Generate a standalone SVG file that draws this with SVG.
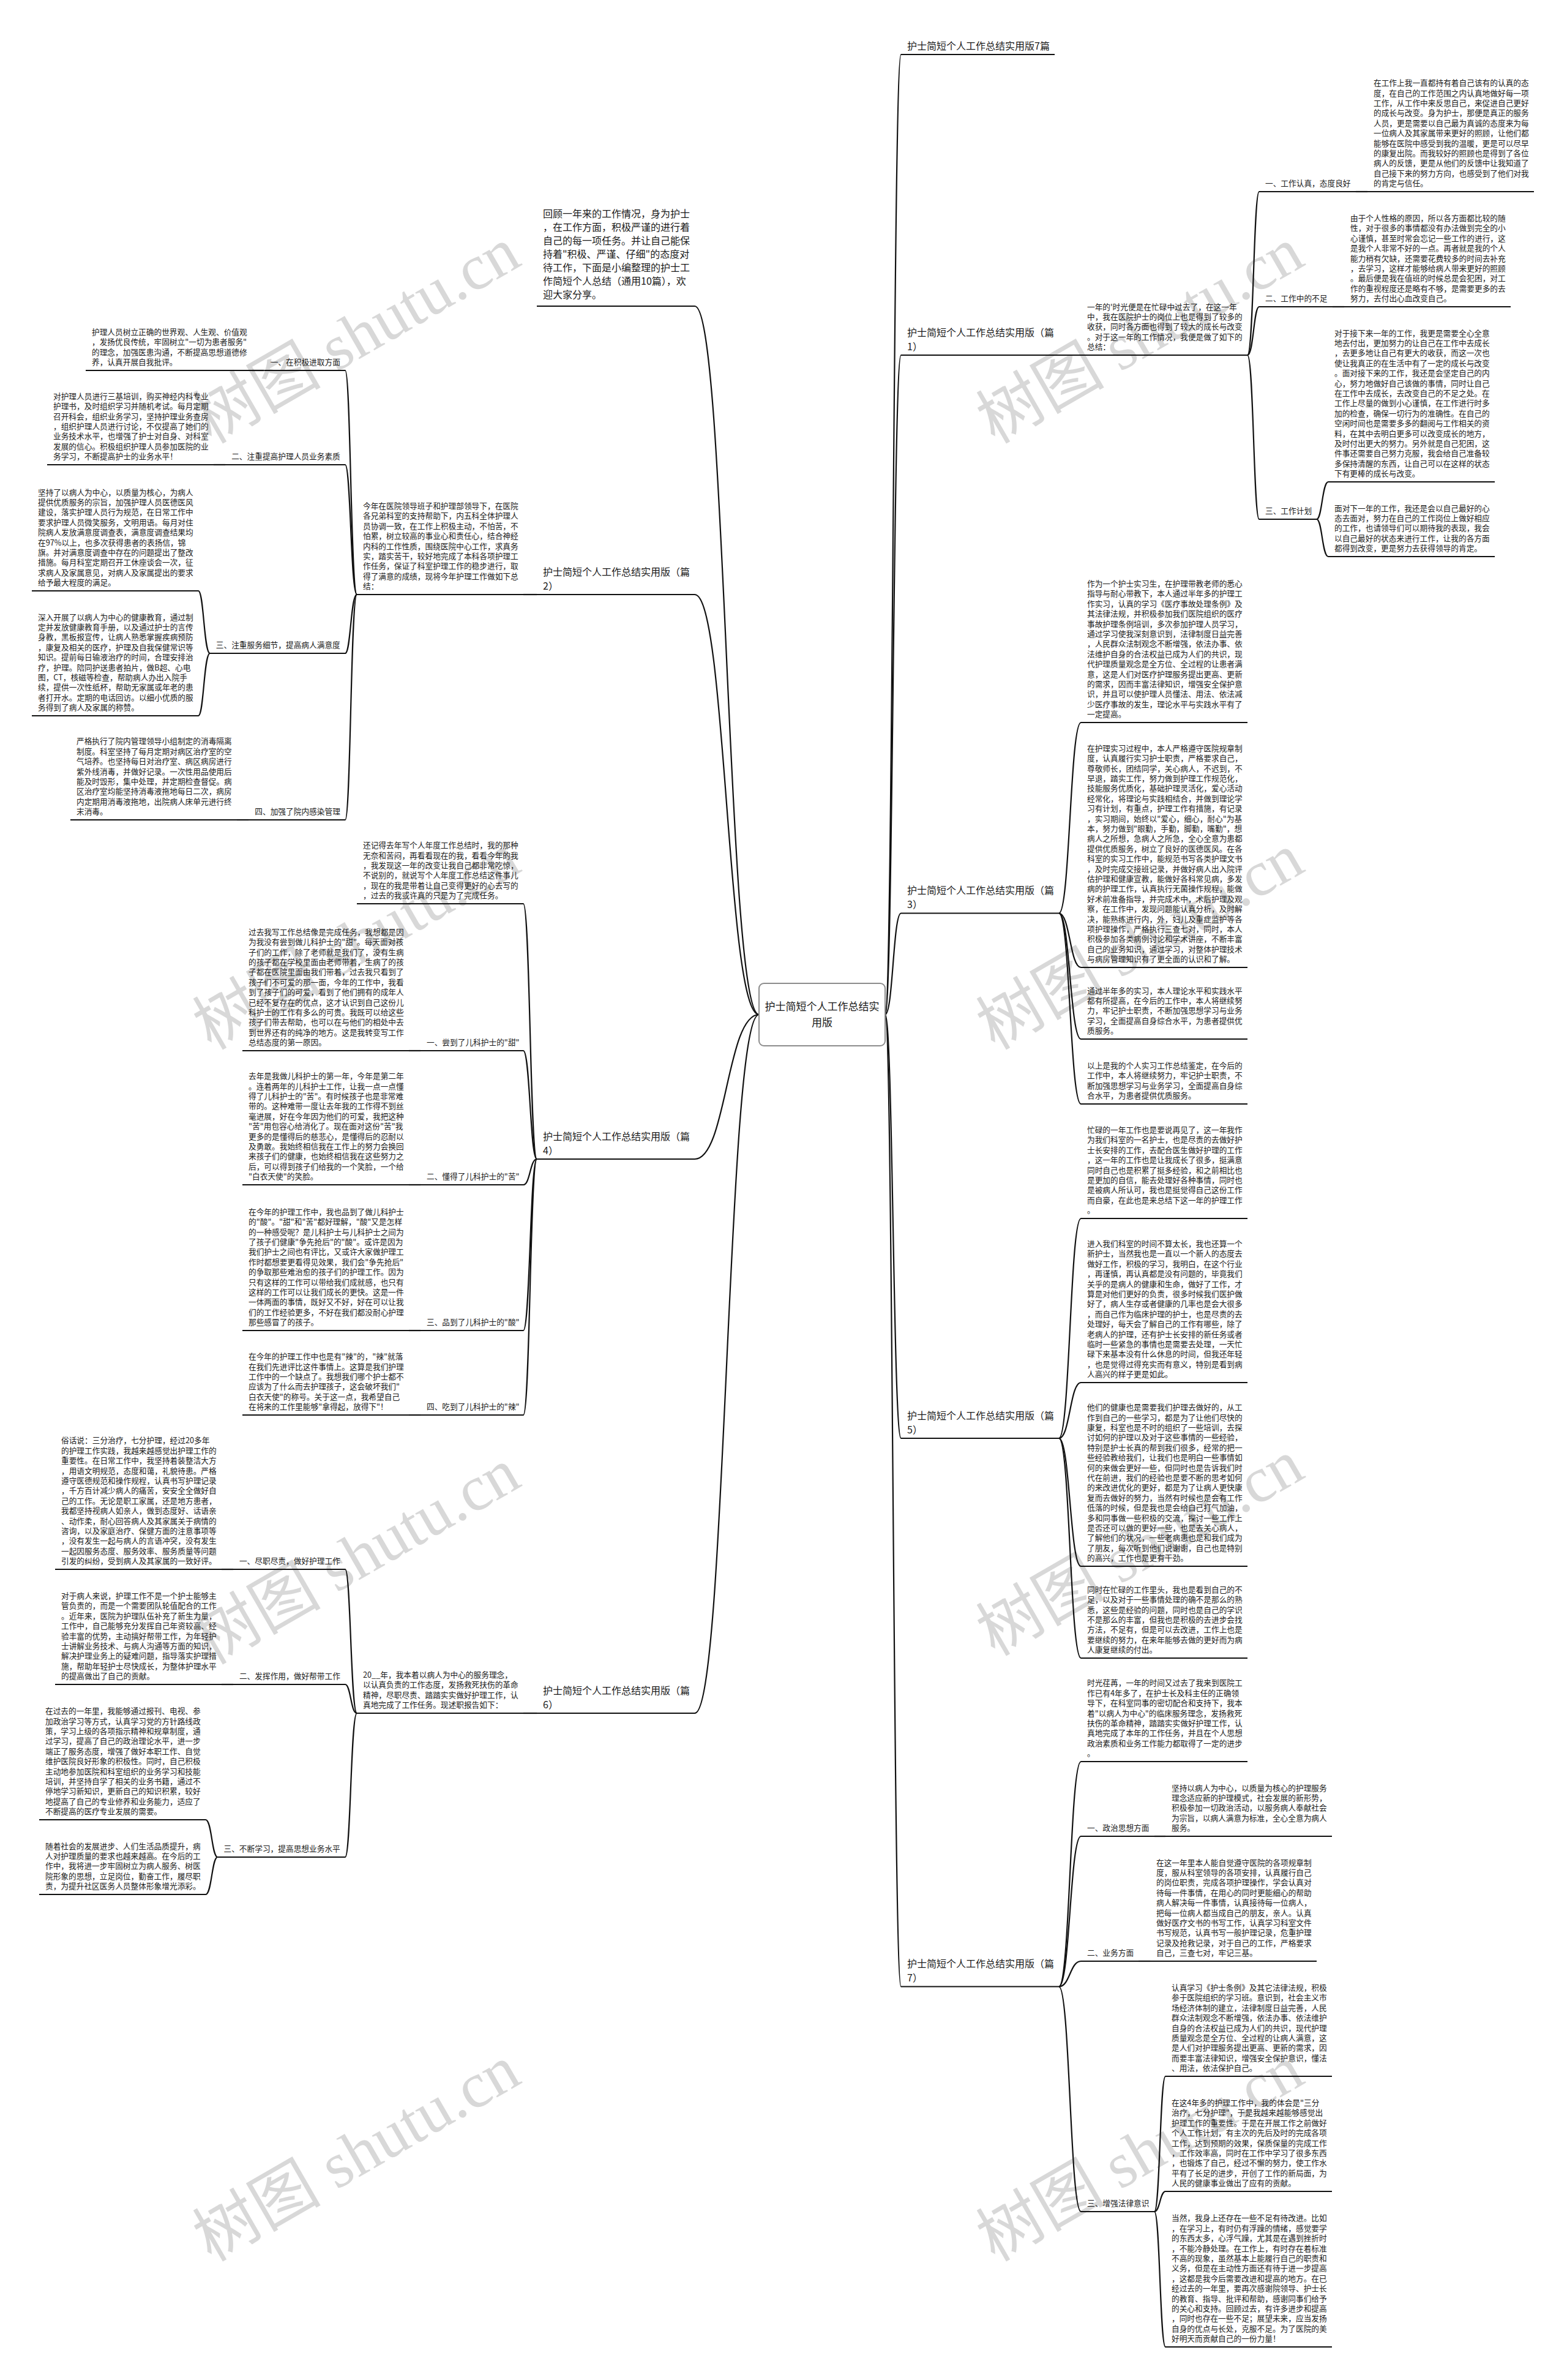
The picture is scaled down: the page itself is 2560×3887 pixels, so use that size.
<svg xmlns="http://www.w3.org/2000/svg" width="2560" height="3887" viewBox="0 0 2560 3887">
<style>
.t{font-family:"Noto Sans CJK SC","Noto Sans",sans-serif;font-size:12.7px;fill:#1a1a1a}
.b{font-family:"Noto Sans CJK SC","Noto Sans",sans-serif;font-size:16px;fill:#1a1a1a}
.u{stroke:#111;stroke-width:2.2;fill:none}
.c{stroke:#111;stroke-width:2.2;fill:none}
.wm{fill:#d8d8d8}
.wmc{font-family:"Noto Sans CJK SC",sans-serif;font-size:105px}
.wml{font-family:"Liberation Serif",serif;font-size:105px}
</style>
<rect width="2560" height="3887" fill="#fff"/>
<g id="watermarks" class="wm">
<text transform="translate(345,726) rotate(-30)"><tspan class="wmc">树图</tspan><tspan class="wml"> shutu.cn</tspan></text>
<text transform="translate(1625,726) rotate(-30)"><tspan class="wmc">树图</tspan><tspan class="wml"> shutu.cn</tspan></text>
<text transform="translate(345,1716) rotate(-30)"><tspan class="wmc">树图</tspan><tspan class="wml"> shutu.cn</tspan></text>
<text transform="translate(1625,1716) rotate(-30)"><tspan class="wmc">树图</tspan><tspan class="wml"> shutu.cn</tspan></text>
<text transform="translate(345,2720) rotate(-30)"><tspan class="wmc">树图</tspan><tspan class="wml"> shutu.cn</tspan></text>
<text transform="translate(1625,2706) rotate(-30)"><tspan class="wmc">树图</tspan><tspan class="wml"> shutu.cn</tspan></text>
<text transform="translate(345,3695) rotate(-30)"><tspan class="wmc">树图</tspan><tspan class="wml"> shutu.cn</tspan></text>
<text transform="translate(1625,3695) rotate(-30)"><tspan class="wmc">树图</tspan><tspan class="wml"> shutu.cn</tspan></text>
</g>
<g id="connectors">
<path class="c" d="M1446 1657C1459 1657 1459 89 1472 89"/>
<path class="c" d="M1446 1657C1459 1657 1459 580 1472 580"/>
<path class="c" d="M1446 1657C1459 1657 1459 1491.5 1472 1491.5"/>
<path class="c" d="M1446 1657C1459 1657 1459 2349 1472 2349"/>
<path class="c" d="M1446 1657C1459 1657 1459 3244.5 1472 3244.5"/>
<path class="c" d="M1730 580H1766"/>
<path class="c" d="M1730 1491.5C1748 1491.5 1748 1180 1766 1180"/>
<path class="c" d="M1730 1491.5C1748 1491.5 1748 1580 1766 1580"/>
<path class="c" d="M1730 1491.5C1748 1491.5 1748 1697 1766 1697"/>
<path class="c" d="M1730 1491.5C1748 1491.5 1748 1803 1766 1803"/>
<path class="c" d="M1730 2349C1748 2349 1748 1990 1766 1990"/>
<path class="c" d="M1730 2349C1748 2349 1748 2258 1766 2258"/>
<path class="c" d="M1730 2349C1748 2349 1748 2558 1766 2558"/>
<path class="c" d="M1730 2349C1748 2349 1748 2708 1766 2708"/>
<path class="c" d="M1730 3244.5C1748 3244.5 1748 2877 1766 2877"/>
<path class="c" d="M1730 3244.5C1748 3244.5 1748 2999 1766 2999"/>
<path class="c" d="M1730 3244.5C1748 3244.5 1748 3203 1766 3203"/>
<path class="c" d="M1730 3244.5C1748 3244.5 1748 3612 1766 3612"/>
<path class="c" d="M2038 580C2048 580 2048 313 2057 313"/>
<path class="c" d="M2038 580C2048 580 2048 501 2057 501"/>
<path class="c" d="M2038 580C2048 580 2048 848 2057 848"/>
<path class="c" d="M2215 313H2234"/>
<path class="c" d="M2177 501H2196"/>
<path class="c" d="M2151 848C2160 848 2160 787 2170 787"/>
<path class="c" d="M2151 848C2160 848 2160 909 2170 909"/>
<path class="c" d="M1886 2999H1904"/>
<path class="c" d="M1860 3203H1879"/>
<path class="c" d="M1886 3612C1895 3612 1895 3391 1904 3391"/>
<path class="c" d="M1886 3612C1895 3612 1895 3579 1904 3579"/>
<path class="c" d="M1886 3612C1895 3612 1895 3833 1904 3833"/>
<path class="c" d="M1240 1657C1187 1657 1187 500 1135 500"/>
<path class="c" d="M1240 1657C1187 1657 1187 971 1135 971"/>
<path class="c" d="M1240 1657C1187 1657 1187 1893 1135 1893"/>
<path class="c" d="M1240 1657C1187 1657 1187 2798 1135 2798"/>
<path class="c" d="M877 971H855"/>
<path class="c" d="M583 971C573 971 573 605 564 605"/>
<path class="c" d="M583 971C573 971 573 759 564 759"/>
<path class="c" d="M583 971C573 971 573 1067 564 1067"/>
<path class="c" d="M583 971C573 971 573 1339 564 1339"/>
<path class="c" d="M431.7 605H412"/>
<path class="c" d="M368 759H349"/>
<path class="c" d="M343 1067C333 1067 333 965 324 965"/>
<path class="c" d="M343 1067C333 1067 333 1169 324 1169"/>
<path class="c" d="M406 1339H387"/>
<path class="c" d="M877 1893C866 1893 866 1476 855 1476"/>
<path class="c" d="M877 1893C866 1893 866 1716 855 1716"/>
<path class="c" d="M877 1893C866 1893 866 1935 855 1935"/>
<path class="c" d="M877 1893C866 1893 866 2173 855 2173"/>
<path class="c" d="M877 1893C866 1893 866 2311 855 2311"/>
<path class="c" d="M687 1716H668"/>
<path class="c" d="M687 1935H668"/>
<path class="c" d="M687 2173H668"/>
<path class="c" d="M687 2311H668"/>
<path class="c" d="M877 2798H855"/>
<path class="c" d="M583 2798C573 2798 573 2563 564 2563"/>
<path class="c" d="M583 2798C573 2798 573 2751 564 2751"/>
<path class="c" d="M583 2798C573 2798 573 3033 564 3033"/>
<path class="c" d="M381 2563H362"/>
<path class="c" d="M381 2751H362"/>
<path class="c" d="M355.5 3033C346 3033 346 2972 336 2972"/>
<path class="c" d="M355.5 3033C346 3033 346 3094 336 3094"/>
</g>
<g id="center">
<rect x="1240" y="1606" width="206" height="102" rx="8" fill="#fff" stroke="#8c8c8c" stroke-width="2"/>
<text class="b" style="font-size:17px" text-anchor="middle"><tspan x="1343" y="1650">护士简短个人工作总结实</tspan><tspan x="1343" dy="26">用版</tspan></text>
</g>
<g id="b7">
<text class="b"><tspan x="1482" y="80.8">护士简短个人工作总结实用版7篇</tspan></text>
<path class="u" d="M1472 89H1723"/>
</g>
<g id="b1">
<text class="b"><tspan x="1482" y="548.8">护士简短个人工作总结实用版（篇</tspan><tspan x="1482" dy="23">1）</tspan></text>
<path class="u" d="M1472 580H1730"/>
</g>
<g id="b1-intro">
<text class="t"><tspan x="1776" y="505.6">一年的'时光便是在忙碌中过去了，在这一年</tspan><tspan x="1776" dy="16.4">中，我在医院护士的岗位上也是得到了较多的</tspan><tspan x="1776" dy="16.4">收获，同时各方面也得到了较大的成长与改变</tspan><tspan x="1776" dy="16.4">。对于这一年的工作情况，我便是做了如下的</tspan><tspan x="1776" dy="16.4">总结：</tspan></text>
<path class="u" d="M1766 580H2038"/>
</g>
<g id="b1-l1">
<text class="t"><tspan x="2067" y="304.2">一、工作认真，态度良好</tspan></text>
<path class="u" d="M2057 313H2215"/>
</g>
<g id="b1-l1-t">
<text class="t"><tspan x="2244" y="140.2">在工作上我一直都持有着自己该有的认真的态</tspan><tspan x="2244" dy="16.4">度，在自己的工作范围之内认真地做好每一项</tspan><tspan x="2244" dy="16.4">工作，从工作中来反思自己，来促进自己更好</tspan><tspan x="2244" dy="16.4">的成长与改变。身为护士，那便是真正的服务</tspan><tspan x="2244" dy="16.4">人员，更是需要以自己最为真诚的态度来为每</tspan><tspan x="2244" dy="16.4">一位病人及其家属带来更好的照顾，让他们都</tspan><tspan x="2244" dy="16.4">能够在医院中感受到我的温暖，更是可以尽早</tspan><tspan x="2244" dy="16.4">的康复出院。而我较好的照顾也是得到了各位</tspan><tspan x="2244" dy="16.4">病人的反馈，更是从他们的反馈中让我知道了</tspan><tspan x="2244" dy="16.4">自己接下来的努力方向，也感受到了他们对我</tspan><tspan x="2244" dy="16.4">的肯定与信任。</tspan></text>
<path class="u" d="M2234 313H2506"/>
</g>
<g id="b1-l2">
<text class="t"><tspan x="2067" y="492.2">二、工作中的不足</tspan></text>
<path class="u" d="M2057 501H2177"/>
</g>
<g id="b1-l2-t">
<text class="t"><tspan x="2206" y="361">由于个人性格的原因，所以各方面都比较的随</tspan><tspan x="2206" dy="16.4">性，对于很多的事情都没有办法做到完全的小</tspan><tspan x="2206" dy="16.4">心谨慎，甚至时常会忘记一些工作的进行，这</tspan><tspan x="2206" dy="16.4">是我个人非常不好的一点。再者就是我的个人</tspan><tspan x="2206" dy="16.4">能力稍有欠缺，还需要花费较多的时间去补充</tspan><tspan x="2206" dy="16.4">，去学习，这样才能够给病人带来更好的照顾</tspan><tspan x="2206" dy="16.4">。最后便是我在值班的时候总是会犯困，对工</tspan><tspan x="2206" dy="16.4">作的重视程度还是略有不够，是需要更多的去</tspan><tspan x="2206" dy="16.4">努力，去付出心血改变自己。</tspan></text>
<path class="u" d="M2196 501H2468"/>
</g>
<g id="b1-l3">
<text class="t"><tspan x="2067" y="839.2">三、工作计划</tspan></text>
<path class="u" d="M2057 848H2151"/>
</g>
<g id="b1-l3-t1">
<text class="t"><tspan x="2180" y="548.6">对于接下来一年的工作，我更是需要全心全意</tspan><tspan x="2180" dy="16.4">地去付出，更加努力的让自己在工作中去成长</tspan><tspan x="2180" dy="16.4">，去更多地让自己有更大的收获，而这一次也</tspan><tspan x="2180" dy="16.4">使让我真正的在生活中有了一定的成长与改变</tspan><tspan x="2180" dy="16.4">。面对接下来的工作，我还是会坚定自己的内</tspan><tspan x="2180" dy="16.4">心，努力地做好自己该做的事情，同时让自己</tspan><tspan x="2180" dy="16.4">在工作中去成长，去改变自己的不足之处。在</tspan><tspan x="2180" dy="16.4">工作上尽量的做到小心谨慎，在工作进行时多</tspan><tspan x="2180" dy="16.4">加的检查，确保一切行为的准确性。在自己的</tspan><tspan x="2180" dy="16.4">空闲时间也是需要多多的翻阅与工作相关的资</tspan><tspan x="2180" dy="16.4">料，在其中去明白更多可以改变成长的地方，</tspan><tspan x="2180" dy="16.4">及时付出更大的努力。另外就是自己犯困，这</tspan><tspan x="2180" dy="16.4">件事还需要自己努力克服，我会给自己准备较</tspan><tspan x="2180" dy="16.4">多保持清醒的东西，让自己可以在这样的状态</tspan><tspan x="2180" dy="16.4">下有更棒的成长与改变。</tspan></text>
<path class="u" d="M2170 787H2442"/>
</g>
<g id="b1-l3-t2">
<text class="t"><tspan x="2180" y="834.6">面对下一年的工作，我还是会以自己最好的心</tspan><tspan x="2180" dy="16.4">态去面对，努力在自己的工作岗位上做好相应</tspan><tspan x="2180" dy="16.4">的工作，也请领导们可以期待我的表现，我会</tspan><tspan x="2180" dy="16.4">以自己最好的状态来进行工作，让我的各方面</tspan><tspan x="2180" dy="16.4">都得到改变，更是努力去获得领导的肯定。</tspan></text>
<path class="u" d="M2170 909H2442"/>
</g>
<g id="b3">
<text class="b"><tspan x="1482" y="1460.3">护士简短个人工作总结实用版（篇</tspan><tspan x="1482" dy="23">3）</tspan></text>
<path class="u" d="M1472 1491.5H1730"/>
</g>
<g id="b3-t1">
<text class="t"><tspan x="1776" y="958">作为一个护士实习生，在护理带教老师的悉心</tspan><tspan x="1776" dy="16.4">指导与耐心带教下，本人通过半年多的护理工</tspan><tspan x="1776" dy="16.4">作实习，认真的学习《医疗事故处理条例》及</tspan><tspan x="1776" dy="16.4">其法律法规，并积极参加我们医院组织的医疗</tspan><tspan x="1776" dy="16.4">事故护理条例培训，多次参加护理人员学习，</tspan><tspan x="1776" dy="16.4">通过学习使我深刻意识到，法律制度日益完善</tspan><tspan x="1776" dy="16.4">，人民群众法制观念不断增强，依法办事、依</tspan><tspan x="1776" dy="16.4">法维护自身的合法权益已成为人们的共识，现</tspan><tspan x="1776" dy="16.4">代护理质量观念是全方位、全过程的让患者满</tspan><tspan x="1776" dy="16.4">意，这是人们对医疗护理服务提出更高、更新</tspan><tspan x="1776" dy="16.4">的需求，因而丰富法律知识，增强安全保护意</tspan><tspan x="1776" dy="16.4">识，并且可以使护理人员懂法、用法、依法减</tspan><tspan x="1776" dy="16.4">少医疗事故的发生，理论水平与实践水平有了</tspan><tspan x="1776" dy="16.4">一定提高。</tspan></text>
<path class="u" d="M1766 1180H2038"/>
</g>
<g id="b3-t2">
<text class="t"><tspan x="1776" y="1226.8">在护理实习过程中，本人严格遵守医院规章制</tspan><tspan x="1776" dy="16.4">度，认真履行实习护士职责，严格要求自己，</tspan><tspan x="1776" dy="16.4">尊敬师长，团结同学，关心病人，不迟到，不</tspan><tspan x="1776" dy="16.4">早退，踏实工作，努力做到护理工作规范化，</tspan><tspan x="1776" dy="16.4">技能服务优质化，基础护理灵活化，爱心活动</tspan><tspan x="1776" dy="16.4">经常化，将理论与实践相结合，并做到理论学</tspan><tspan x="1776" dy="16.4">习有计划，有重点，护理工作有措施，有记录</tspan><tspan x="1776" dy="16.4">，实习期间，始终以"爱心，细心，耐心"为基</tspan><tspan x="1776" dy="16.4">本，努力做到"眼勤，手勤，脚勤，嘴勤"，想</tspan><tspan x="1776" dy="16.4">病人之所想，急病人之所急，全心全意为患都</tspan><tspan x="1776" dy="16.4">提供优质服务，树立了良好的医德医风。在各</tspan><tspan x="1776" dy="16.4">科室的实习工作中，能规范书写各类护理文书</tspan><tspan x="1776" dy="16.4">，及时完成交接班记录，并做好病人出入院评</tspan><tspan x="1776" dy="16.4">估护理和健康宣教，能做好各科常见病，多发</tspan><tspan x="1776" dy="16.4">病的护理工作，认真执行无菌操作规程，能做</tspan><tspan x="1776" dy="16.4">好术前准备指导，并完成术中，术后护理及观</tspan><tspan x="1776" dy="16.4">察，在工作中，发现问题能认真分析，及时解</tspan><tspan x="1776" dy="16.4">决，能熟练进行内，外，妇儿及重症监护等各</tspan><tspan x="1776" dy="16.4">项护理操作，严格执行三查七对，同时，本人</tspan><tspan x="1776" dy="16.4">积极参加各类病例讨论和学术讲座，不断丰富</tspan><tspan x="1776" dy="16.4">自己的业务知识，通过学习，对整体护理技术</tspan><tspan x="1776" dy="16.4">与病房管理知识有了更全面的认识和了解。</tspan></text>
<path class="u" d="M1766 1580H2038"/>
</g>
<g id="b3-t3">
<text class="t"><tspan x="1776" y="1622.6">通过半年多的实习，本人理论水平和实践水平</tspan><tspan x="1776" dy="16.4">都有所提高，在今后的工作中，本人将继续努</tspan><tspan x="1776" dy="16.4">力，牢记护士职责，不断加强思想学习与业务</tspan><tspan x="1776" dy="16.4">学习，全面提高自身综合水平，为患者提供优</tspan><tspan x="1776" dy="16.4">质服务。</tspan></text>
<path class="u" d="M1766 1697H2038"/>
</g>
<g id="b3-t4">
<text class="t"><tspan x="1776" y="1745">以上是我的个人实习工作总结鉴定，在今后的</tspan><tspan x="1776" dy="16.4">工作中，本人将继续努力，牢记护士职责，不</tspan><tspan x="1776" dy="16.4">断加强思想学习与业务学习，全面提高自身综</tspan><tspan x="1776" dy="16.4">合水平，为患者提供优质服务。</tspan></text>
<path class="u" d="M1766 1803H2038"/>
</g>
<g id="b5">
<text class="b"><tspan x="1482" y="2317.8">护士简短个人工作总结实用版（篇</tspan><tspan x="1482" dy="23">5）</tspan></text>
<path class="u" d="M1472 2349H1730"/>
</g>
<g id="b5-t1">
<text class="t"><tspan x="1776" y="1850">忙碌的一年工作也是要说再见了，这一年我作</tspan><tspan x="1776" dy="16.4">为我们科室的一名护士，也是尽责的去做好护</tspan><tspan x="1776" dy="16.4">士长安排的工作，去配合医生做好护理的工作</tspan><tspan x="1776" dy="16.4">，这一年的工作也是让我成长了很多，挺满意</tspan><tspan x="1776" dy="16.4">同时自己也是积累了挺多经验，和之前相比也</tspan><tspan x="1776" dy="16.4">是更加的自信，能去处理好各种事情，同时也</tspan><tspan x="1776" dy="16.4">是被病人所认可，我也是挺觉得自己这份工作</tspan><tspan x="1776" dy="16.4">而自豪，在此也是来总结下这一年的护理工作</tspan><tspan x="1776" dy="16.4">。</tspan></text>
<path class="u" d="M1766 1990H2038"/>
</g>
<g id="b5-t2">
<text class="t"><tspan x="1776" y="2036">进入我们科室的时间不算太长，我也还算一个</tspan><tspan x="1776" dy="16.4">新护士，当然我也是一直以一个新人的态度去</tspan><tspan x="1776" dy="16.4">做好工作，积极的学习，我明白，在这个行业</tspan><tspan x="1776" dy="16.4">，再谨慎，再认真都是没有问题的，毕竟我们</tspan><tspan x="1776" dy="16.4">关乎的是病人的健康和生命，做好了工作，才</tspan><tspan x="1776" dy="16.4">算是对他们更好的负责，很多时候我们医护做</tspan><tspan x="1776" dy="16.4">好了，病人生存或者健康的几率也是会大很多</tspan><tspan x="1776" dy="16.4">，而自己作为临床护理的护士，也是尽责的去</tspan><tspan x="1776" dy="16.4">处理好，每天会了解自己的工作有哪些，除了</tspan><tspan x="1776" dy="16.4">老病人的护理，还有护士长安排的新任务或者</tspan><tspan x="1776" dy="16.4">临时一些紧急的事情也是需要去处理，一天忙</tspan><tspan x="1776" dy="16.4">碌下来基本没有什么休息的时间，但我还年轻</tspan><tspan x="1776" dy="16.4">，也是觉得过得充实而有意义，特别是看到病</tspan><tspan x="1776" dy="16.4">人高兴的样子更是如此。</tspan></text>
<path class="u" d="M1766 2258H2038"/>
</g>
<g id="b5-t3">
<text class="t"><tspan x="1776" y="2303.2">他们的健康也是需要我们护理去做好的，从工</tspan><tspan x="1776" dy="16.4">作到自己的一些学习，都是为了让他们尽快的</tspan><tspan x="1776" dy="16.4">康复，科室也是不时的组织了一些培训，去探</tspan><tspan x="1776" dy="16.4">讨如何的护理以及对于这些事情的一些经验，</tspan><tspan x="1776" dy="16.4">特别是护士长真的帮到我们很多，经常的把一</tspan><tspan x="1776" dy="16.4">些经验教给我们，让我们也是明白一些事情如</tspan><tspan x="1776" dy="16.4">何的来做会更好一些，但同时也是告诉我们时</tspan><tspan x="1776" dy="16.4">代在前进，我们的经验也是要不断的思考如何</tspan><tspan x="1776" dy="16.4">的来改进优化的更好，都是为了让病人更快康</tspan><tspan x="1776" dy="16.4">复而去做好的努力，当然有时候也是会有工作</tspan><tspan x="1776" dy="16.4">低落的时候，但是我也是会给自己打气加油，</tspan><tspan x="1776" dy="16.4">多和同事做一些积极的交流，探讨一些工作上</tspan><tspan x="1776" dy="16.4">是否还可以做的更好一些，也是去关心病人，</tspan><tspan x="1776" dy="16.4">了解他们的状况，一些老病患也是和我们成为</tspan><tspan x="1776" dy="16.4">了朋友，每次听到他们说谢谢，自己也是特别</tspan><tspan x="1776" dy="16.4">的高兴，工作也是更有干劲。</tspan></text>
<path class="u" d="M1766 2558H2038"/>
</g>
<g id="b5-t4">
<text class="t"><tspan x="1776" y="2600.8">同时在忙碌的工作里头，我也是看到自己的不</tspan><tspan x="1776" dy="16.4">足，以及对于一些事情处理的确不是那么的熟</tspan><tspan x="1776" dy="16.4">悉，这些是经验的问题，同时也是自己的学识</tspan><tspan x="1776" dy="16.4">不是那么的丰富，但我也是积极的去进步会找</tspan><tspan x="1776" dy="16.4">方法，不足有，但是可以去改进，工作上也是</tspan><tspan x="1776" dy="16.4">要继续的努力，在来年能够去做的更好而为病</tspan><tspan x="1776" dy="16.4">人康复继续的付出。</tspan></text>
<path class="u" d="M1766 2708H2038"/>
</g>
<g id="b7x">
<text class="b"><tspan x="1482" y="3213.3">护士简短个人工作总结实用版（篇</tspan><tspan x="1482" dy="23">7）</tspan></text>
<path class="u" d="M1472 3244.5H1730"/>
</g>
<g id="b7-t1">
<text class="t"><tspan x="1776" y="2753.4">时光荏苒，一年的时间又过去了我来到医院工</tspan><tspan x="1776" dy="16.4">作已有4年多了，在护士长及科主任的正确领</tspan><tspan x="1776" dy="16.4">导下，在科室同事的密切配合和支持下，我本</tspan><tspan x="1776" dy="16.4">着"以病人为中心"的临床服务理念，发扬救死</tspan><tspan x="1776" dy="16.4">扶伤的革命精神，踏踏实实做好护理工作，认</tspan><tspan x="1776" dy="16.4">真地完成了本年的工作任务，并且在个人思想</tspan><tspan x="1776" dy="16.4">政治素质和业务工作能力都取得了一定的进步</tspan><tspan x="1776" dy="16.4">。</tspan></text>
<path class="u" d="M1766 2877H2038"/>
</g>
<g id="b7-l1">
<text class="t"><tspan x="1776" y="2990.2">一、政治思想方面</tspan></text>
<path class="u" d="M1766 2999H1886"/>
</g>
<g id="b7-l1-t">
<text class="t"><tspan x="1914" y="2924.6">坚持以病人为中心，以质量为核心的护理服务</tspan><tspan x="1914" dy="16.4">理念适应新的护理模式，社会发展的新形势，</tspan><tspan x="1914" dy="16.4">积极参加一切政治活动，以服务病人奉献社会</tspan><tspan x="1914" dy="16.4">为宗旨，以病人满意为标准，全心全意为病人</tspan><tspan x="1914" dy="16.4">服务。</tspan></text>
<path class="u" d="M1904 2999H2176"/>
</g>
<g id="b7-l2">
<text class="t"><tspan x="1776" y="3194.2">二、业务方面</tspan></text>
<path class="u" d="M1766 3203H1860"/>
</g>
<g id="b7-l2-t">
<text class="t"><tspan x="1889" y="3046.6">在这一年里本人能自觉遵守医院的各项规章制</tspan><tspan x="1889" dy="16.4">度，服从科室领导的各项安排，认真履行自己</tspan><tspan x="1889" dy="16.4">的岗位职责，完成各项护理操作，学会认真对</tspan><tspan x="1889" dy="16.4">待每一件事情，在用心的同时更能细心的帮助</tspan><tspan x="1889" dy="16.4">病人解决每一件事情，认真接待每一位病人，</tspan><tspan x="1889" dy="16.4">把每一位病人都当成自己的朋友，亲人。认真</tspan><tspan x="1889" dy="16.4">做好医疗文书的书写工作，认真学习科室文件</tspan><tspan x="1889" dy="16.4">书写规范，认真书写一般护理记录，危重护理</tspan><tspan x="1889" dy="16.4">记录及抢救记录，对于自己的工作，严格要求</tspan><tspan x="1889" dy="16.4">自己，三查七对，牢记三基。</tspan></text>
<path class="u" d="M1879 3203H2151"/>
</g>
<g id="b7-l3">
<text class="t"><tspan x="1776" y="3603.2">三、增强法律意识</tspan></text>
<path class="u" d="M1766 3612H1886"/>
</g>
<g id="b7-l3-t1">
<text class="t"><tspan x="1914" y="3251">认真学习《护士条例》及其它法律法规，积极</tspan><tspan x="1914" dy="16.4">参于医院组织的学习班。意识到，社会主义市</tspan><tspan x="1914" dy="16.4">场经济体制的建立，法律制度日益完善，人民</tspan><tspan x="1914" dy="16.4">群众法制观念不断增强，依法办事、依法维护</tspan><tspan x="1914" dy="16.4">自身的合法权益已成为人们的共识，现代护理</tspan><tspan x="1914" dy="16.4">质量观念是全方位、全过程的让病人满意，这</tspan><tspan x="1914" dy="16.4">是人们对护理服务提出更高、更新的需求，因</tspan><tspan x="1914" dy="16.4">而要丰富法律知识，增强安全保护意识，懂法</tspan><tspan x="1914" dy="16.4">、用法，依法保护自己。</tspan></text>
<path class="u" d="M1904 3391H2176"/>
</g>
<g id="b7-l3-t2">
<text class="t"><tspan x="1914" y="3439">在这4年多的护理工作中，我的体会是"三分</tspan><tspan x="1914" dy="16.4">治疗，七分护理"，于是我越来越能够感觉出</tspan><tspan x="1914" dy="16.4">护理工作的重要性。于是在开展工作之前做好</tspan><tspan x="1914" dy="16.4">个人工作计划，有主次的先后及时的完成各项</tspan><tspan x="1914" dy="16.4">工作，达到预期的效果，保质保量的完成工作</tspan><tspan x="1914" dy="16.4">，工作效率高，同时在工作中学习了很多东西</tspan><tspan x="1914" dy="16.4">，也锻炼了自己，经过不懈的努力，使工作水</tspan><tspan x="1914" dy="16.4">平有了长足的进步，开创了工作的新局面，为</tspan><tspan x="1914" dy="16.4">人民的健康事业做出了应有的贡献。</tspan></text>
<path class="u" d="M1904 3579H2176"/>
</g>
<g id="b7-l3-t3">
<text class="t"><tspan x="1914" y="3627.4">当然，我身上还存在一些不足有待改进。比如</tspan><tspan x="1914" dy="16.4">，在学习上，有时仍有浮躁的情绪，感觉要学</tspan><tspan x="1914" dy="16.4">的东西太多，心浮气躁，尤其是在遇到挫折时</tspan><tspan x="1914" dy="16.4">，不能冷静处理。在工作上，有时存在着标准</tspan><tspan x="1914" dy="16.4">不高的现象，虽然基本上能履行自己的职责和</tspan><tspan x="1914" dy="16.4">义务，但是在主动性方面还有待于进一步提高</tspan><tspan x="1914" dy="16.4">，这都是我今后需要改进和提高的地方。在已</tspan><tspan x="1914" dy="16.4">经过去的一年里，要再次感谢院领导、护士长</tspan><tspan x="1914" dy="16.4">的教育、指导、批评和帮助，感谢同事们给予</tspan><tspan x="1914" dy="16.4">的关心和支持。回顾过去，有许多进步和提高</tspan><tspan x="1914" dy="16.4">，同时也存在一些不足；展望未来，应当发扬</tspan><tspan x="1914" dy="16.4">自身的优点与长处，克服不足。为了医院的美</tspan><tspan x="1914" dy="16.4">好明天而贡献自己的一份力量！</tspan></text>
<path class="u" d="M1904 3833H2176"/>
</g>
<g id="intro">
<text class="b"><tspan x="887" y="354.8">回顾一年来的工作情况，身为护士</tspan><tspan x="887" dy="22">，在工作方面，积极严谨的进行着</tspan><tspan x="887" dy="22">自己的每一项任务。并让自己能保</tspan><tspan x="887" dy="22">持着"积极、严谨、仔细"的态度对</tspan><tspan x="887" dy="22">待工作，下面是小编整理的护士工</tspan><tspan x="887" dy="22">作简短个人总结（通用10篇），欢</tspan><tspan x="887" dy="22">迎大家分享。</tspan></text>
<path class="u" d="M877 500H1135"/>
</g>
<g id="b2">
<text class="b"><tspan x="887" y="939.8">护士简短个人工作总结实用版（篇</tspan><tspan x="887" dy="23">2）</tspan></text>
<path class="u" d="M877 971H1135"/>
</g>
<g id="b2-t">
<text class="t"><tspan x="593" y="831">今年在医院领导班子和护理部领导下，在医院</tspan><tspan x="593" dy="16.4">各兄弟科室的支持帮助下，内五科全体护理人</tspan><tspan x="593" dy="16.4">员协调一致，在工作上积极主动，不怕苦，不</tspan><tspan x="593" dy="16.4">怕累，树立较高的事业心和责任心，结合神经</tspan><tspan x="593" dy="16.4">内科的工作性质，围绕医院中心工作，求真务</tspan><tspan x="593" dy="16.4">实，踏实苦干，较好地完成了本科各项护理工</tspan><tspan x="593" dy="16.4">作任务，保证了科室护理工作的稳步进行，取</tspan><tspan x="593" dy="16.4">得了满意的成绩，现将今年护理工作做如下总</tspan><tspan x="593" dy="16.4">结：</tspan></text>
<path class="u" d="M583 971H855"/>
</g>
<g id="b2-l1">
<text class="t"><tspan x="441.7" y="596.2">一、在积极进取方面</tspan></text>
<path class="u" d="M431.7 605H564"/>
</g>
<g id="b2-l1-t">
<text class="t"><tspan x="150" y="547">护理人员树立正确的世界观、人生观、价值观</tspan><tspan x="150" dy="16.4">，发扬优良传统，牢固树立"一切为患者服务"</tspan><tspan x="150" dy="16.4">的理念，加强医患沟通，不断提高思想道德修</tspan><tspan x="150" dy="16.4">养，认真开展自我批评。</tspan></text>
<path class="u" d="M140 605H412"/>
</g>
<g id="b2-l2">
<text class="t"><tspan x="378.2" y="750.2">二、注重提高护理人员业务素质</tspan></text>
<path class="u" d="M368 759H564"/>
</g>
<g id="b2-l2-t">
<text class="t"><tspan x="87" y="651.8">对护理人员进行三基培训，购买神经内科专业</tspan><tspan x="87" dy="16.4">护理书，及时组织学习并随机考试。每月定期</tspan><tspan x="87" dy="16.4">召开科会，组织业务学习，坚持护理业务查房</tspan><tspan x="87" dy="16.4">，组织护理人员进行讨论，不仅提高了她们的</tspan><tspan x="87" dy="16.4">业务技术水平，也增强了护士对自身、对科室</tspan><tspan x="87" dy="16.4">发展的信心。积极组织护理人员参加医院的业</tspan><tspan x="87" dy="16.4">务学习，不断提高护士的业务水平！</tspan></text>
<path class="u" d="M77 759H349"/>
</g>
<g id="b2-l3">
<text class="t"><tspan x="352.8" y="1058.2">三、注重服务细节，提高病人满意度</tspan></text>
<path class="u" d="M343 1067H564"/>
</g>
<g id="b2-l3-t1">
<text class="t"><tspan x="62" y="808.6">坚持了以病人为中心，以质量为核心，为病人</tspan><tspan x="62" dy="16.4">提供优质服务的宗旨，加强护理人员医德医风</tspan><tspan x="62" dy="16.4">建设，落实护理人员行为规范，在日常工作中</tspan><tspan x="62" dy="16.4">要求护理人员微笑服务，文明用语。每月对住</tspan><tspan x="62" dy="16.4">院病人发放满意度调查表，满意度调查结果均</tspan><tspan x="62" dy="16.4">在97%以上，也多次获得患者的表扬信，锦</tspan><tspan x="62" dy="16.4">旗。并对满意度调查中存在的问题提出了整改</tspan><tspan x="62" dy="16.4">措施。每月科室定期召开工休座谈会一次，征</tspan><tspan x="62" dy="16.4">求病人及家属意见，对病人及家属提出的要求</tspan><tspan x="62" dy="16.4">给予最大程度的满足。</tspan></text>
<path class="u" d="M52 965H324"/>
</g>
<g id="b2-l3-t2">
<text class="t"><tspan x="62" y="1012.6">深入开展了以病人为中心的健康教育，通过制</tspan><tspan x="62" dy="16.4">定并发放健康教育手册，以及通过护士的言传</tspan><tspan x="62" dy="16.4">身教，黑板报宣传，让病人熟悉掌握疾病预防</tspan><tspan x="62" dy="16.4">，康复及相关的医疗，护理及自我保健常识等</tspan><tspan x="62" dy="16.4">知识。提前每日输液治疗的时间，合理安排治</tspan><tspan x="62" dy="16.4">疗，护理。陪同护送患者拍片，做B超、心电</tspan><tspan x="62" dy="16.4">图，CT，核磁等检查，帮助病人办出入院手</tspan><tspan x="62" dy="16.4">续，提供一次性纸杯，帮助无家属或年老的患</tspan><tspan x="62" dy="16.4">者打开水。定期的电话回访。以细小优质的服</tspan><tspan x="62" dy="16.4">务得到了病人及家属的称赞。</tspan></text>
<path class="u" d="M52 1169H324"/>
</g>
<g id="b2-l4">
<text class="t"><tspan x="416.3" y="1330.2">四、加强了院内感染管理</tspan></text>
<path class="u" d="M406 1339H564"/>
</g>
<g id="b2-l4-t">
<text class="t"><tspan x="125" y="1215.4">严格执行了院内管理领导小组制定的消毒隔离</tspan><tspan x="125" dy="16.4">制度。科室坚持了每月定期对病区治疗室的空</tspan><tspan x="125" dy="16.4">气培养。也坚持每日对治疗室、病区病房进行</tspan><tspan x="125" dy="16.4">紫外线消毒，并做好记录。一次性用品使用后</tspan><tspan x="125" dy="16.4">能及时毁形，集中处理，并定期检查督促。病</tspan><tspan x="125" dy="16.4">区治疗室均能坚持消毒液拖地每日二次，病房</tspan><tspan x="125" dy="16.4">内定期用消毒液拖地，出院病人床单元进行终</tspan><tspan x="125" dy="16.4">末消毒。</tspan></text>
<path class="u" d="M115 1339H387"/>
</g>
<g id="b4">
<text class="b"><tspan x="887" y="1861.8">护士简短个人工作总结实用版（篇</tspan><tspan x="887" dy="23">4）</tspan></text>
<path class="u" d="M877 1893H1135"/>
</g>
<g id="b4-t">
<text class="t"><tspan x="593" y="1385.2">还记得去年写个人年度工作总结时，我的那种</tspan><tspan x="593" dy="16.4">无奈和苦闷，再看看现在的我，看看今年的我</tspan><tspan x="593" dy="16.4">，我发现这一年的改变让我自己都非常吃惊，</tspan><tspan x="593" dy="16.4">不说别的，就说写个人年度工作总结这件事儿</tspan><tspan x="593" dy="16.4">，现在的我是带着让自己变得更好的心去写的</tspan><tspan x="593" dy="16.4">，过去的我或许真的只是为了完成任务。</tspan></text>
<path class="u" d="M583 1476H855"/>
</g>
<g id="b4-l1">
<text class="t"><tspan x="697" y="1707.2">一、尝到了儿科护士的"甜"</tspan></text>
<path class="u" d="M687 1716H855"/>
</g>
<g id="b4-l1-t">
<text class="t"><tspan x="406" y="1526.8">过去我写工作总结像是完成任务，我想都是因</tspan><tspan x="406" dy="16.4">为我没有尝到做儿科护士的"甜"。每天面对孩</tspan><tspan x="406" dy="16.4">子们的工作，除了老师就是我们了，没有生病</tspan><tspan x="406" dy="16.4">的孩子都在学校里面由老师带着，生病了的孩</tspan><tspan x="406" dy="16.4">子都在医院里面由我们带着，过去我只看到了</tspan><tspan x="406" dy="16.4">孩子们不可爱的那一面，今年的工作中，我看</tspan><tspan x="406" dy="16.4">到了孩子们的可爱，看到了他们拥有的成年人</tspan><tspan x="406" dy="16.4">已经不复存在的优点，这才认识到自己这份儿</tspan><tspan x="406" dy="16.4">科护士的工作有多么的可贵。我既可以给这些</tspan><tspan x="406" dy="16.4">孩子们带去帮助，也可以在与他们的相处中去</tspan><tspan x="406" dy="16.4">到世界还有的纯净的地方。这是我转变写工作</tspan><tspan x="406" dy="16.4">总结态度的第一原因。</tspan></text>
<path class="u" d="M396 1716H668"/>
</g>
<g id="b4-l2">
<text class="t"><tspan x="697" y="1926.2">二、懂得了儿科护士的"苦"</tspan></text>
<path class="u" d="M687 1935H855"/>
</g>
<g id="b4-l2-t">
<text class="t"><tspan x="406" y="1762.2">去年是我做儿科护士的第一年，今年是第二年</tspan><tspan x="406" dy="16.4">。连着两年的儿科护士工作，让我一点一点懂</tspan><tspan x="406" dy="16.4">得了儿科护士的"苦"。有时候孩子也是非常难</tspan><tspan x="406" dy="16.4">带的。这种难带一度让去年我的工作得不到丝</tspan><tspan x="406" dy="16.4">毫进展，好在今年因为他们的可爱，我把这种</tspan><tspan x="406" dy="16.4">"苦"用包容心给消化了。现在面对这份"苦"我</tspan><tspan x="406" dy="16.4">更多的是懂得后的慈悲心，是懂得后的忍耐以</tspan><tspan x="406" dy="16.4">及勇敢。我始终相信我在工作上的努力会换回</tspan><tspan x="406" dy="16.4">来孩子们的健康，也始终相信我在这些努力之</tspan><tspan x="406" dy="16.4">后，可以得到孩子们给我的一个笑脸，一个给</tspan><tspan x="406" dy="16.4">"白衣天使"的笑脸。</tspan></text>
<path class="u" d="M396 1935H668"/>
</g>
<g id="b4-l3">
<text class="t"><tspan x="697" y="2164.2">三、品到了儿科护士的"酸"</tspan></text>
<path class="u" d="M687 2173H855"/>
</g>
<g id="b4-l3-t">
<text class="t"><tspan x="406" y="1983.8">在今年的护理工作中，我也品到了做儿科护士</tspan><tspan x="406" dy="16.4">的"酸"。"甜"和"苦"都好理解，"酸"又是怎样</tspan><tspan x="406" dy="16.4">的一种感受呢？是儿科护士与儿科护士之间为</tspan><tspan x="406" dy="16.4">了孩子们健康"争先抢后"的"酸"。或许是因为</tspan><tspan x="406" dy="16.4">我们护士之间也有评比，又或许大家做护理工</tspan><tspan x="406" dy="16.4">作时都想要更看得见效果，我们会"争先抢后"</tspan><tspan x="406" dy="16.4">的争取那些难治愈的孩子们的护理工作。因为</tspan><tspan x="406" dy="16.4">只有这样的工作可以带给我们成就感，也只有</tspan><tspan x="406" dy="16.4">这样的工作可以让我们成长的更快。这是一件</tspan><tspan x="406" dy="16.4">一体两面的事情，既好又不好，好在可以让我</tspan><tspan x="406" dy="16.4">们的工作经验更多，不好在我们都没耐心护理</tspan><tspan x="406" dy="16.4">那些感冒了的孩子。</tspan></text>
<path class="u" d="M396 2173H668"/>
</g>
<g id="b4-l4">
<text class="t"><tspan x="697" y="2302.2">四、吃到了儿科护士的"辣"</tspan></text>
<path class="u" d="M687 2311H855"/>
</g>
<g id="b4-l4-t">
<text class="t"><tspan x="406" y="2220.2">在今年的护理工作中也是有"辣"的，"辣"就落</tspan><tspan x="406" dy="16.4">在我们先进评比这件事情上。这算是我们护理</tspan><tspan x="406" dy="16.4">工作中的一个缺点了。我想我们哪个护士都不</tspan><tspan x="406" dy="16.4">应该为了什么而去护理孩子，这会破坏我们"</tspan><tspan x="406" dy="16.4">白衣天使"的称号。关于这一点，我希望自己</tspan><tspan x="406" dy="16.4">在将来的工作里能够"拿得起，放得下"！</tspan></text>
<path class="u" d="M396 2311H668"/>
</g>
<g id="b6">
<text class="b"><tspan x="887" y="2766.8">护士简短个人工作总结实用版（篇</tspan><tspan x="887" dy="23">6）</tspan></text>
<path class="u" d="M877 2798H1135"/>
</g>
<g id="b6-t">
<text class="t"><tspan x="593" y="2740">20__年，我本着以病人为中心的服务理念，</tspan><tspan x="593" dy="16.4">以认真负责的工作态度，发扬救死扶伤的革命</tspan><tspan x="593" dy="16.4">精神，尽职尽责、踏踏实实做好护理工作，认</tspan><tspan x="593" dy="16.4">真地完成了工作任务。现述职报告如下：</tspan></text>
<path class="u" d="M583 2798H855"/>
</g>
<g id="b6-l1">
<text class="t"><tspan x="390.9" y="2554.2">一、尽职尽责，做好护理工作</tspan></text>
<path class="u" d="M381 2563H564"/>
</g>
<g id="b6-l1-t">
<text class="t"><tspan x="100" y="2357.4">俗话说：三分治疗，七分护理，经过20多年</tspan><tspan x="100" dy="16.4">的护理工作实践，我越来越感觉出护理工作的</tspan><tspan x="100" dy="16.4">重要性。在日常工作中，我坚持着装整洁大方</tspan><tspan x="100" dy="16.4">，用语文明规范，态度和蔼，礼貌待患。严格</tspan><tspan x="100" dy="16.4">遵守医德规范和操作规程，认真书写护理记录</tspan><tspan x="100" dy="16.4">，千方百计减少病人的痛苦，安安全全做好自</tspan><tspan x="100" dy="16.4">己的工作。无论是职工家属，还是地方患者，</tspan><tspan x="100" dy="16.4">我都坚持视病人如亲人，做到态度好、话语亲</tspan><tspan x="100" dy="16.4">、动作柔，耐心回答病人及其家属关于病情的</tspan><tspan x="100" dy="16.4">咨询，以及家庭治疗、保健方面的注意事项等</tspan><tspan x="100" dy="16.4">，没有发生一起与病人的言语冲突，没有发生</tspan><tspan x="100" dy="16.4">一起因服务态度、服务效率、服务质量等问题</tspan><tspan x="100" dy="16.4">引发的纠纷，受到病人及其家属的一致好评。</tspan></text>
<path class="u" d="M90 2563H362"/>
</g>
<g id="b6-l2">
<text class="t"><tspan x="390.9" y="2742.2">二、发挥作用，做好帮带工作</tspan></text>
<path class="u" d="M381 2751H564"/>
</g>
<g id="b6-l2-t">
<text class="t"><tspan x="100" y="2611">对于病人来说，护理工作不是一个护士能够主</tspan><tspan x="100" dy="16.4">管负责的，而是一个需要团队轮值配合的工作</tspan><tspan x="100" dy="16.4">。近年来，医院为护理队伍补充了新生力量，</tspan><tspan x="100" dy="16.4">工作中，自己能够充分发挥自己年资较高、经</tspan><tspan x="100" dy="16.4">验丰富的优势，主动搞好帮带工作，为年轻护</tspan><tspan x="100" dy="16.4">士讲解业务技术、与病人沟通等方面的知识，</tspan><tspan x="100" dy="16.4">解决护理业务上的疑难问题，指导落实护理措</tspan><tspan x="100" dy="16.4">施，帮助年轻护士尽快成长，为整体护理水平</tspan><tspan x="100" dy="16.4">的提高做出了自己的贡献。</tspan></text>
<path class="u" d="M90 2751H362"/>
</g>
<g id="b6-l3">
<text class="t"><tspan x="365.5" y="3024.2">三、不断学习，提高思想业务水平</tspan></text>
<path class="u" d="M355.5 3033H564"/>
</g>
<g id="b6-l3-t1">
<text class="t"><tspan x="74" y="2799.2">在过去的一年里，我能够通过报刊、电视、参</tspan><tspan x="74" dy="16.4">加政治学习等方式，认真学习党的方针路线政</tspan><tspan x="74" dy="16.4">策，学习上级的各项指示精神和规章制度，通</tspan><tspan x="74" dy="16.4">过学习，提高了自己的政治理论水平，进一步</tspan><tspan x="74" dy="16.4">端正了服务态度，增强了做好本职工作、自觉</tspan><tspan x="74" dy="16.4">维护医院良好形象的积极性。同时，自己积极</tspan><tspan x="74" dy="16.4">主动地参加医院和科室组织的业务学习和技能</tspan><tspan x="74" dy="16.4">培训，并坚持自学了相关的业务书籍，通过不</tspan><tspan x="74" dy="16.4">停地学习新知识，更新自己的知识积累，较好</tspan><tspan x="74" dy="16.4">地提高了自己的专业修养和业务能力，适应了</tspan><tspan x="74" dy="16.4">不断提高的医疗专业发展的需要。</tspan></text>
<path class="u" d="M64 2972H336"/>
</g>
<g id="b6-l3-t2">
<text class="t"><tspan x="74" y="3019.6">随着社会的发展进步、人们生活品质提升，病</tspan><tspan x="74" dy="16.4">人对护理质量的要求也越来越高。在今后的工</tspan><tspan x="74" dy="16.4">作中，我将进一步牢固树立为病人服务、树医</tspan><tspan x="74" dy="16.4">院形象的思想，立足岗位，勤奋工作，履尽职</tspan><tspan x="74" dy="16.4">责，为提升社区医务人员整体形象增光添彩。</tspan></text>
<path class="u" d="M64 3094H336"/>
</g>
</svg>
